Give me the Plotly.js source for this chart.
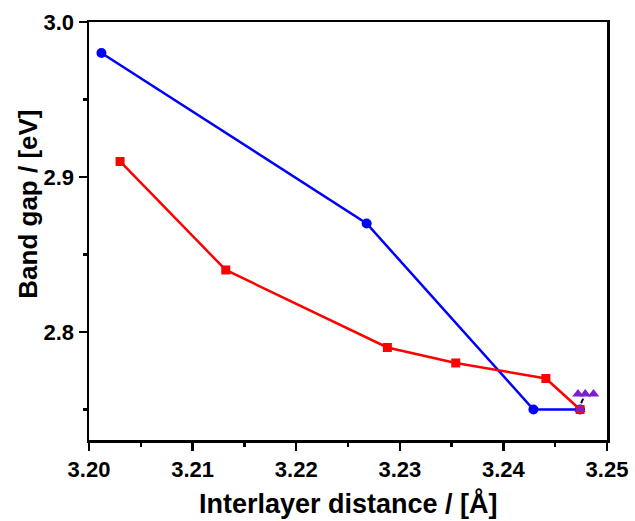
<!DOCTYPE html>
<html><head><meta charset="utf-8">
<script src="https://cdn.plot.ly/plotly-3.0.1.min.js"></script>
<style>html,body{margin:0;padding:0;background:#fff}#c{width:635px;height:521px}</style>
</head><body><div id="c"></div>
<script>
const blueX = [3.2012, 3.2268, 3.2429, 3.2474];
const blueY = [2.98, 2.87, 2.75, 2.75];
const redX = [3.2030, 3.2132, 3.2288, 3.2354, 3.2441, 3.2474];
const redY = [2.91, 2.84, 2.79, 2.78, 2.77, 2.75];
const purpleX = [3.2472, 3.2479, 3.2487];
const purpleY = [2.76, 2.76, 2.76];
const purpleLowX = [3.2474];
const purpleLowY = [2.75];
const blackX = [3.2475, 3.2477];
const blackY = [2.754, 2.757];

const font = {family: 'Liberation Sans, Arial, sans-serif', color: '#000'};
const traces = [
  {x: blueX, y: blueY, mode: 'lines+markers', line: {color: '#0000ff', width: 2.5},
   marker: {symbol: 'circle', size: 10, color: '#0000ff'}},
  {x: redX, y: redY, mode: 'lines+markers', line: {color: '#ff0000', width: 2.5},
   marker: {symbol: 'square', size: 9, color: '#ff0000'}},
  {x: purpleLowX, y: purpleLowY, mode: 'markers',
   marker: {symbol: 'triangle-up', size: 10, color: '#7b1fd6'}},
  {x: purpleX, y: purpleY, mode: 'markers',
   marker: {symbol: 'triangle-up', size: 10, color: '#7b1fd6'}},
  {x: blackX, y: blackY, mode: 'lines', line: {color: '#000', width: 2}}
];
const axBase = {
  showgrid: false, zeroline: false, showline: true, linecolor: '#000', linewidth: 2.5,
  mirror: true, ticks: 'outside', ticklen: 8, tickwidth: 2.5, tickcolor: '#000',
  tickfont: Object.assign({size: 22, weight: 'bold'}, font)
};
const layout = {
  width: 635, height: 521,
  margin: {l: 89, r: 28, t: 22, b: 81},
  paper_bgcolor: '#fff', plot_bgcolor: '#fff',
  showlegend: false,
  xaxis: Object.assign({}, axBase, {
    range: [3.20, 3.25], dtick: 0.01, tick0: 3.20, tickformat: '.2f',
    minor: {dtick: 0.005, tick0: 3.20, ticks: 'outside', ticklen: 4, tickwidth: 2.5, tickcolor: '#000'}
  }),
  yaxis: Object.assign({}, axBase, {
    range: [2.7303, 3.0], dtick: 0.1, tick0: 2.8, tickformat: '.1f',
    minor: {dtick: 0.05, tick0: 2.8, ticks: 'outside', ticklen: 4, tickwidth: 2.5, tickcolor: '#000'}
  }),
  annotations: [{
    text: 'Band gap / [eV]', textangle: -90, showarrow: false,
    xref: 'paper', yref: 'paper', x: -0.118, y: 0.565, xanchor: 'center', yanchor: 'middle',
    font: Object.assign({size: 26, weight: 'bold'}, font)
  }, {
    text: 'Interlayer distance / [Å]', showarrow: false,
    xref: 'paper', yref: 'paper', x: 0.5, y: -0.153, xanchor: 'center', yanchor: 'middle',
    font: Object.assign({size: 27, weight: 'bold'}, font)
  }]
};
Plotly.newPlot('c', traces, layout, {displayModeBar: false, staticPlot: true});
</script></body></html>
